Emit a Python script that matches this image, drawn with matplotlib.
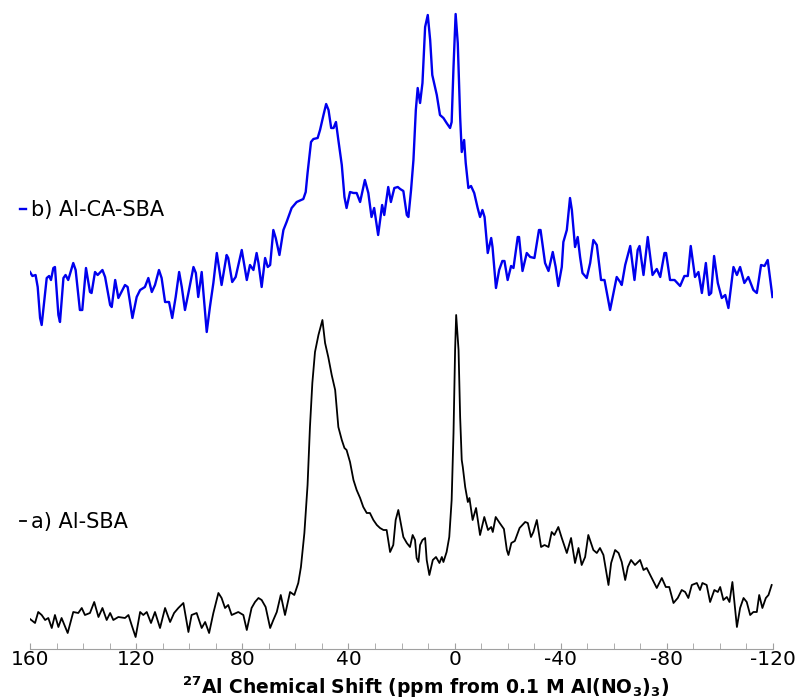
"""27Al MAS NMR spectra of Al-SBA and Al-CA-SBA, stacked."""
import matplotlib

matplotlib.use("Agg")
import matplotlib.pyplot as plt
from matplotlib.ticker import MultipleLocator

plt.rcParams["axes.unicode_minus"] = False

# a) Al-SBA: chemical shift (ppm) and intensity (a.u.)
shift_a = [
    160.0, 158.1, 156.9, 155.6, 154.3, 153.1, 151.8, 150.6, 149.3, 148.1,
    145.8, 143.7, 141.8, 140.5, 139.3, 137.4, 135.8, 134.2, 132.7, 131.1,
    129.8, 128.6, 126.7, 124.2, 122.9, 121.7, 120.2, 118.5, 117.3, 116.0,
    114.4, 112.9, 111.0, 109.1, 107.2, 105.7, 104.1, 102.2, 100.3, 99.1,
    97.2, 95.3, 94.0, 92.5, 90.9, 89.0, 87.8, 86.5, 85.3, 84.0,
    81.5, 79.6, 78.3, 76.5, 75.2, 73.9, 72.7, 71.2, 69.5, 68.3,
    67.0, 65.5, 63.9, 62.0, 60.4, 58.9, 57.9, 56.6, 55.4, 54.5,
    53.6, 52.6, 51.3, 49.8, 48.8, 47.6, 46.3, 45.0, 43.8, 42.5,
    41.5, 40.7, 39.4, 38.1, 36.9, 35.6, 34.4, 33.1, 31.9, 30.6,
    29.3, 28.1, 26.8, 25.6, 24.3, 23.1, 22.2, 21.2, 19.3, 18.0,
    16.8, 15.8, 14.9, 14.3, 13.6, 13.0, 12.1, 11.1, 10.5, 9.5,
    8.2, 7.0, 5.7, 4.8, 4.2, 3.0, 2.0, 1.1, 0.4, -0.2,
    -0.6, -1.5, -2.1, -2.7, -3.1, -4.0, -5.0, -5.6, -6.8, -8.1,
    -9.6, -11.2, -12.6, -13.8, -14.4, -15.5, -17.0, -18.6, -19.7, -20.3,
    -21.4, -22.7, -24.5, -26.6, -27.6, -28.8, -29.7, -31.0, -32.6, -33.9,
    -35.4, -36.6, -37.6, -39.1, -40.4, -42.3, -43.9, -45.4, -46.7, -47.9,
    -49.2, -50.4, -52.3, -53.6, -54.8, -56.1, -58.0, -59.0, -60.5, -61.8,
    -63.0, -64.3, -65.3, -66.5, -68.0, -69.9, -71.2, -72.4, -74.3, -76.2,
    -78.1, -79.6, -80.9, -82.5, -84.1, -85.6, -86.9, -88.1, -89.4, -91.3,
    -92.5, -93.4, -95.0, -96.3, -97.9, -99.2, -100.1, -101.3, -102.6, -103.6,
    -104.7, -106.4, -107.6, -108.9, -110.1, -111.4, -112.6, -113.9, -114.8, -116.0,
    -117.3, -118.3, -119.5,
]
intensity_a = [
    21, 17, 28, 25, 20, 22, 12, 25, 13, 22,
    7, 28, 27, 32, 25, 27, 38, 23, 32, 20,
    27, 20, 23, 22, 25, 15, 3, 28, 25, 28,
    17, 28, 12, 32, 18, 27, 32, 37, 8, 25,
    27, 12, 18, 7, 27, 47, 42, 32, 35, 25,
    28, 25, 10, 32, 38, 42, 40, 33, 12, 20,
    28, 45, 25, 48, 45, 57, 73, 107, 155, 213,
    257, 288, 305, 320, 297, 283, 265, 250, 213, 200,
    192, 190, 178, 160, 150, 142, 133, 127, 127, 120,
    115, 112, 110, 110, 88, 95, 120, 130, 103, 97,
    93, 105, 100, 82, 78, 95, 100, 102, 80, 65,
    80, 83, 77, 83, 78, 88, 103, 140, 207, 290,
    325, 290, 223, 180, 173, 153, 138, 142, 120, 132,
    105, 123, 110, 113, 108, 123, 117, 111, 90, 85,
    97, 99, 112, 118, 117, 103, 108, 120, 93, 95,
    93, 108, 105, 113, 102, 87, 102, 77, 92, 75,
    83, 105, 90, 87, 92, 85, 55, 77, 90, 87,
    78, 60, 73, 80, 75, 80, 70, 72, 62, 52,
    62, 53, 53, 37, 42, 50, 48, 42, 55, 57,
    50, 57, 55, 38, 50, 48, 53, 40, 43, 38,
    58, 13, 32, 42, 38, 25, 28, 28, 45, 32,
    42, 45, 55,
]

# b) Al-CA-SBA
shift_b = [
    160.0, 159.1, 157.9, 157.1, 156.2, 155.6, 154.6, 153.7, 152.8, 152.1,
    151.2, 150.6, 149.3, 148.7, 147.4, 146.6, 145.6, 143.7, 142.8, 141.2,
    140.3, 138.9, 137.4, 136.8, 135.5, 134.5, 132.7, 131.7, 129.8, 129.2,
    127.9, 126.7, 124.2, 123.2, 121.4, 119.8, 118.5, 116.7, 115.4, 114.1,
    112.9, 111.4, 110.4, 109.1, 107.6, 106.4, 105.1, 103.8, 102.8, 101.6,
    100.3, 98.4, 97.5, 96.6, 95.3, 93.4, 92.2, 90.9, 89.6, 87.8,
    85.9, 85.3, 83.8, 82.5, 80.2, 78.3, 77.1, 75.8, 74.6, 73.9,
    72.7, 71.4, 70.4, 69.5, 68.3, 67.4, 66.0, 64.5, 63.3, 61.4,
    59.5, 57.0, 56.1, 55.4, 54.1, 53.2, 51.6, 50.7, 49.4, 48.4,
    47.5, 46.5, 45.6, 44.7, 43.8, 42.5, 41.5, 40.7, 39.4, 38.1,
    36.9, 35.6, 33.8, 32.5, 31.3, 30.3, 28.8, 27.3, 26.5, 25.0,
    24.0, 22.7, 21.4, 20.5, 19.3, 18.0, 17.4, 16.4, 15.5, 14.6,
    13.9, 13.0, 12.1, 11.1, 10.1, 9.2, 8.4, 6.7, 5.5, 4.2,
    3.0, 1.7, 1.1, 0.4, -0.4, -1.2, -2.1, -2.7, -3.6, -4.2,
    -5.2, -6.2, -7.4, -8.7, -9.6, -10.5, -11.3, -12.5, -13.8, -14.3,
    -15.3, -15.6, -16.8, -18.0, -18.8, -20.0, -21.3, -22.2, -23.8, -24.3,
    -25.6, -27.2, -28.5, -30.1, -31.8, -32.4, -34.1, -35.4, -37.0, -38.1,
    -39.1, -40.4, -41.0, -42.3, -43.5, -44.2, -45.4, -46.4, -47.3, -48.2,
    -49.8, -51.1, -52.3, -53.6, -55.2, -56.5, -58.6, -59.9, -61.1, -62.4,
    -63.0, -64.3, -66.2, -67.8, -69.0, -69.7, -71.2, -72.8, -74.6, -76.2,
    -77.5, -79.1, -79.7, -81.2, -82.9, -85.0, -86.6, -87.9, -89.0, -90.6,
    -91.9, -93.2, -94.7, -95.9, -96.7, -97.8, -99.2, -100.7, -102.0, -103.2,
    -105.1, -106.4, -107.6, -109.2, -110.7, -112.6, -113.9, -115.5, -116.8, -118.0,
    -119.8,
]
intensity_b = [
    68, 64, 65, 53, 22, 15, 40, 62, 64, 60,
    72, 73, 25, 18, 62, 65, 60, 77, 70, 30,
    30, 72, 48, 47, 68, 65, 70, 63, 35, 33,
    60, 42, 55, 53, 22, 43, 50, 53, 62, 48,
    55, 70, 62, 38, 38, 22, 43, 68, 53, 30,
    47, 73, 67, 43, 68, 8, 33, 57, 87, 55,
    85, 82, 58, 63, 90, 60, 75, 70, 87, 77,
    53, 82, 73, 75, 110, 102, 85, 110, 118, 132,
    138, 141, 148, 167, 198, 201, 202, 210, 225, 236,
    230, 212, 212, 218, 200, 175, 143, 132, 148, 147,
    147, 138, 160, 147, 123, 132, 105, 135, 125, 153,
    138, 152, 153, 151, 149, 125, 123, 150, 180, 230,
    252, 237, 257, 313, 325, 300, 265, 245, 225, 222,
    217, 212, 218, 273, 326, 297, 223, 188, 200, 177,
    152, 154, 147, 132, 123, 130, 123, 87, 102, 93,
    62, 52, 70, 79, 79, 60, 74, 72, 103, 103,
    69, 87, 83, 82, 110, 110, 77, 69, 88, 73,
    54, 73, 98, 110, 142, 130, 93, 103, 83, 67,
    62, 77, 100, 95, 60, 60, 30, 47, 63, 58,
    55, 75, 94, 60, 90, 94, 65, 103, 65, 71,
    63, 87, 87, 60, 60, 54, 64, 64, 94, 63,
    68, 47, 77, 45, 47, 84, 57, 42, 45, 32,
    73, 65, 73, 57, 63, 50, 47, 75, 74, 80,
    43,
]

stack_offset = 300  # vertical shift of trace b above trace a

fig = plt.figure(figsize=(7.97, 7.0), dpi=100)
ax = fig.add_axes([30 / 797, 51 / 700, 743 / 797, 649 / 700])

line_a, = ax.plot(shift_a, intensity_a, color="black", lw=1.3)
line_b, = ax.plot(shift_b, [v + stack_offset for v in intensity_b], color="#0000ee", lw=1.7)

ax.set_xlim(160, -120)
ax.set_ylim(-9, 640)

for side in ("left", "right", "top"):
    ax.spines[side].set_visible(False)
ax.spines["bottom"].set_color("#a0a0a0")
ax.yaxis.set_visible(False)

ax.xaxis.set_major_locator(MultipleLocator(40))
ax.xaxis.set_minor_locator(MultipleLocator(10))
ax.tick_params(axis="x", which="both", direction="in", length=4, color="#a0a0a0",
               labelsize=14.5, pad=1)

ax.set_xlabel(r"$\mathbf{^{27}}$Al Chemical Shift (ppm from 0.1 M Al(NO$\mathbf{_3}$)$\mathbf{_3}$)",
              fontsize=13.5, fontweight="bold")
ax.xaxis.set_label_coords(0.533, -0.039)

# trace labels, each with a short line sample
leg_b = fig.legend([line_b], ["b) Al-CA-SBA"], loc="center left",
                   bbox_to_anchor=(20 / 797, 1 - 210 / 700), frameon=False,
                   handlelength=0.3, handletextpad=0.25, borderpad=0,
                   borderaxespad=0, fontsize=15)
leg_a = fig.legend([line_a], ["a) Al-SBA"], loc="center left",
                   bbox_to_anchor=(20 / 797, 1 - 522 / 700), frameon=False,
                   handlelength=0.3, handletextpad=0.25, borderpad=0,
                   borderaxespad=0, fontsize=15)

fig.savefig("out.png", dpi=100)
